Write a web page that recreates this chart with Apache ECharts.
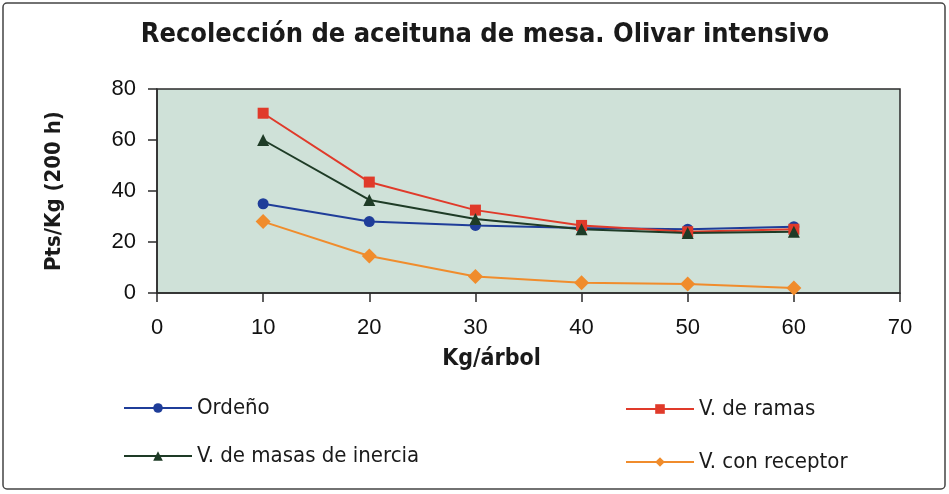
<!DOCTYPE html>
<html>
<head>
<meta charset="utf-8">
<script src="https://cdn.jsdelivr.net/npm/echarts@6/dist/echarts.min.js"></script>
<style>
  html, body { margin: 0; padding: 0; background: #fff; }
</style>
</head>
<body>
<div id="main" style="width: 949px; height: 494px"></div>
<script>
// valores
var kgArbol = [10, 20, 30, 40, 50, 60];
var ordeno = [35, 28, 26.5, 25.5, 25, 26];
var ramas = [70.5, 43.5, 32.5, 26.5, 24, 25];
var masasInercia = [60, 36.5, 29, 25, 23.5, 24];
var conReceptor = [28, 14.5, 6.5, 4, 3.5, 2];

function pares(vals) {
  return kgArbol.map(function (x, i) { return [x, vals[i]]; });
}

var narrow = "'Liberation Sans Narrow', 'DejaVu Sans Condensed', sans-serif";
var arial = "'Liberation Sans', Arial, sans-serif";

var myChart = echarts.init(document.getElementById("main"));
var option = {
  backgroundColor: "#ffffff",
  animation: false,
  title: {
    text: "Recolección de aceituna de mesa. Olivar intensivo",
    left: 480,
    top: 16,
    textAlign: "center",
    textStyle: { fontFamily: narrow, fontWeight: "bold", fontSize: 27, color: "#1a1a1a" },
  },
  graphic: [
    {
      type: "rect",
      shape: { x: 3, y: 3, width: 942, height: 486, r: 4 },
      style: { fill: "none", stroke: "#444", lineWidth: 1.5 },
      silent: true,
    },
  ],
  legend: [
    {
      left: 118, top: 392, itemWidth: 68, itemHeight: 12,
      textStyle: { fontFamily: narrow, fontSize: 22, color: "#1a1a1a" },
      data: ["Ordeño"],
    },
    {
      left: 118, top: 440, itemWidth: 68, itemHeight: 12,
      textStyle: { fontFamily: narrow, fontSize: 22, color: "#1a1a1a" },
      data: ["V. de masas de inercia"],
    },
    {
      left: 620, top: 393, itemWidth: 68, itemHeight: 12,
      textStyle: { fontFamily: narrow, fontSize: 22, color: "#1a1a1a" },
      data: ["V. de ramas"],
    },
    {
      left: 620, top: 446, itemWidth: 68, itemHeight: 12,
      textStyle: { fontFamily: narrow, fontSize: 22, color: "#1a1a1a" },
      data: ["V. con receptor"],
    },
  ],
  grid: {
    left: 157,
    top: 89,
    width: 743,
    height: 204,
    show: true,
    backgroundColor: "#cfe1d8",
    borderColor: "#2b2b2b",
    borderWidth: 1.5,
  },
  xAxis: {
    type: "value",
    min: 0,
    max: 70,
    interval: 10,
    name: "Kg/árbol",
    nameLocation: "middle",
    nameGap: 55,
    nameTextStyle: {
      fontFamily: narrow, fontWeight: "bold", fontSize: 23, color: "#1a1a1a",
      padding: [0, 74, 0, 0],
    },
    axisLine: { show: true, onZero: false, lineStyle: { color: "#2b2b2b", width: 1.5 } },
    axisTick: { show: true, length: 9, lineStyle: { color: "#2b2b2b", width: 1.5 } },
    axisLabel: { fontFamily: arial, fontSize: 22, color: "#111", margin: 24 },
    splitLine: { show: false },
  },
  yAxis: {
    type: "value",
    min: 0,
    max: 80,
    interval: 20,
    name: "Pts/Kg (200 h)",
    nameLocation: "middle",
    nameGap: 92,
    nameRotate: 90,
    nameTextStyle: { fontFamily: narrow, fontWeight: "bold", fontSize: 22, color: "#1a1a1a" },
    axisLine: { show: true, lineStyle: { color: "#2b2b2b", width: 1.5 } },
    axisTick: { show: true, length: 9, lineStyle: { color: "#2b2b2b", width: 1.5 } },
    axisLabel: { fontFamily: arial, fontSize: 22, color: "#111", margin: 21 },
    splitLine: { show: false },
  },
  series: [
    {
      name: "Ordeño",
      type: "line",
      data: pares(ordeno),
      color: "#1f3d99",
      symbol: "circle",
      symbolSize: 11,
      lineStyle: { width: 2 },
    },
    {
      name: "V. de ramas",
      type: "line",
      data: pares(ramas),
      color: "#e03a2a",
      symbol: "rect",
      symbolSize: 11,
      lineStyle: { width: 2 },
    },
    {
      name: "V. de masas de inercia",
      type: "line",
      data: pares(masasInercia),
      color: "#1e3b26",
      symbol: "triangle",
      symbolSize: 12,
      lineStyle: { width: 2 },
    },
    {
      name: "V. con receptor",
      type: "line",
      data: pares(conReceptor),
      color: "#f08c2c",
      symbol: "diamond",
      symbolSize: 15,
      lineStyle: { width: 2 },
    },
  ],
};
myChart.setOption(option);
</script>
</body>
</html>
